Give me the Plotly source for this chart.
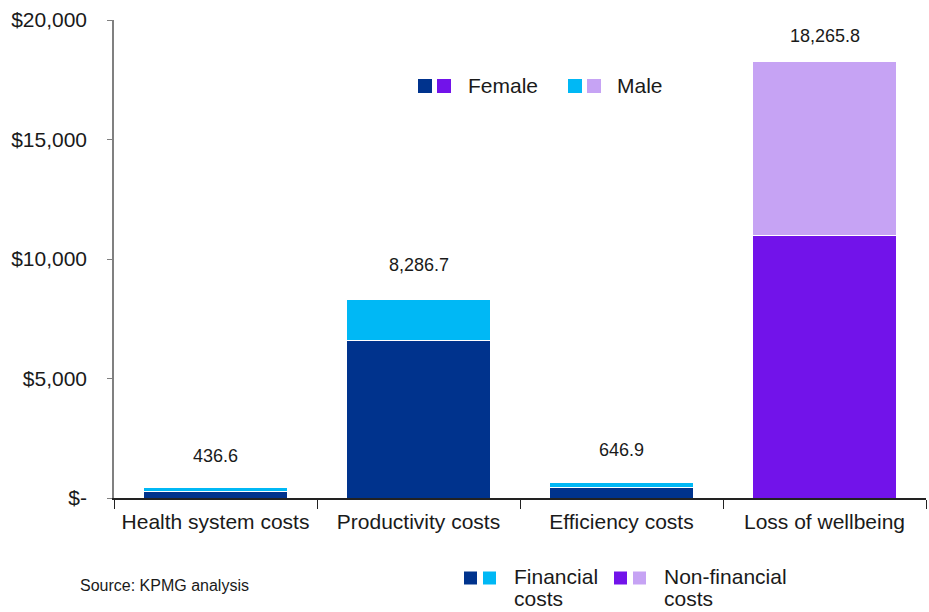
import plotly.graph_objects as go

# Cost categories and stacked values by sex
categories = ["Health system costs", "Productivity costs", "Efficiency costs", "Loss of wellbeing"]
female = [270.0, 6570.0, 460.0, 11000.0]
male = [166.6, 1716.7, 186.9, 7265.8]
totals = [436.6, 8286.7, 646.9, 18265.8]
total_labels = ["436.6", "8,286.7", "646.9", "18,265.8"]

y_tickvals = [0, 5000, 10000, 15000, 20000]
y_ticktext = ["$-", "$5,000", "$10,000", "$15,000", "$20,000"]

# Palette: financial (blues) vs non-financial (purples)
DARK_BLUE = "#00338D"
LIGHT_BLUE = "#00B8F5"
PURPLE = "#7213EA"
LAVENDER = "#C6A3F4"

female_colors = [DARK_BLUE, DARK_BLUE, DARK_BLUE, PURPLE]
male_colors = [LIGHT_BLUE, LIGHT_BLUE, LIGHT_BLUE, LAVENDER]

FONT = "Liberation Sans, Arial, sans-serif"
TXT = "#1a1a1a"
W, H = 929, 612
L, R, T, B = 114, 3, 20, 114

fig = go.Figure()
fig.add_trace(go.Bar(x=categories, y=female, name="Female",
                     marker=dict(color=female_colors, line=dict(color="white", width=1))))
fig.add_trace(go.Bar(x=categories, y=male, name="Male",
                     marker=dict(color=male_colors, line=dict(color="white", width=1))))


def px_x(p):
    return (p - L) / (W - L - R)


def px_y(p):
    return (H - B - p) / (H - T - B)


# Total labels above each stack
label_shift = [20, 23, 21, 13]
for cat, tot, lab, s in zip(categories, totals, total_labels, label_shift):
    fig.add_annotation(x=cat, y=tot, text=lab, showarrow=False, yanchor="bottom",
                       yshift=s, font=dict(size=18, color=TXT, family=FONT))

shapes = []
annos = []


def legend_swatches(x0, yc, colors, size=14, gap=5):
    x = x0
    for c in colors:
        shapes.append(dict(type="rect", xref="paper", yref="paper",
                           x0=px_x(x), x1=px_x(x + size),
                           y0=px_y(yc + size / 2), y1=px_y(yc - size / 2),
                           fillcolor=c, line=dict(width=0)))
        x += size + gap


def legend_text(x, yc, text):
    annos.append(dict(x=px_x(x), y=px_y(yc), text=text, xanchor="left", yanchor="middle"))


# Sex legend (upper middle of the plot)
legend_swatches(418, 86, [DARK_BLUE, PURPLE])
legend_text(466, 85, "Female")
legend_swatches(568, 86, [LIGHT_BLUE, LAVENDER])
legend_text(615, 85, "Male")

# Cost type legend (below the axis)
legend_swatches(464, 578, [DARK_BLUE, LIGHT_BLUE], size=13, gap=6)
legend_text(512, 576, "Financial")
legend_text(512, 598, "costs")
legend_swatches(614, 578, [PURPLE, LAVENDER], size=13, gap=6)
legend_text(662, 576, "Non-financial")
legend_text(662, 598, "costs")

for a in annos:
    fig.add_annotation(xref="paper", yref="paper", showarrow=False,
                       font=dict(size=21, color=TXT, family=FONT), **a)

fig.add_annotation(xref="paper", yref="paper", x=px_x(78), y=px_y(585), text="Source: KPMG analysis",
                   showarrow=False, xanchor="left", yanchor="middle",
                   font=dict(size=16, color=TXT, family=FONT))

fig.update_layout(
    width=W, height=H,
    margin=dict(l=L, r=R, t=T, b=B),
    barmode="stack", bargap=0.295,
    showlegend=False,
    plot_bgcolor="white", paper_bgcolor="white",
    font=dict(family=FONT, size=21, color=TXT),
    shapes=shapes,
)
fig.update_xaxes(showline=True, linecolor="#222222", linewidth=1.5,
                 ticks="outside", tickson="boundaries", ticklen=9, tickcolor="#222222",
                 ticklabelstandoff=4,
                 tickfont=dict(size=21, family=FONT, color=TXT), showgrid=False)
fig.update_yaxes(range=[0, 20000], tickvals=y_tickvals, ticktext=y_ticktext,
                 showline=True, linecolor="#808080", linewidth=1.5,
                 ticks="outside", ticklen=5, tickcolor="#808080",
                 ticklabelstandoff=16, showgrid=False, zeroline=False,
                 tickfont=dict(size=21, family=FONT, color=TXT))

fig.write_html("out.html")
